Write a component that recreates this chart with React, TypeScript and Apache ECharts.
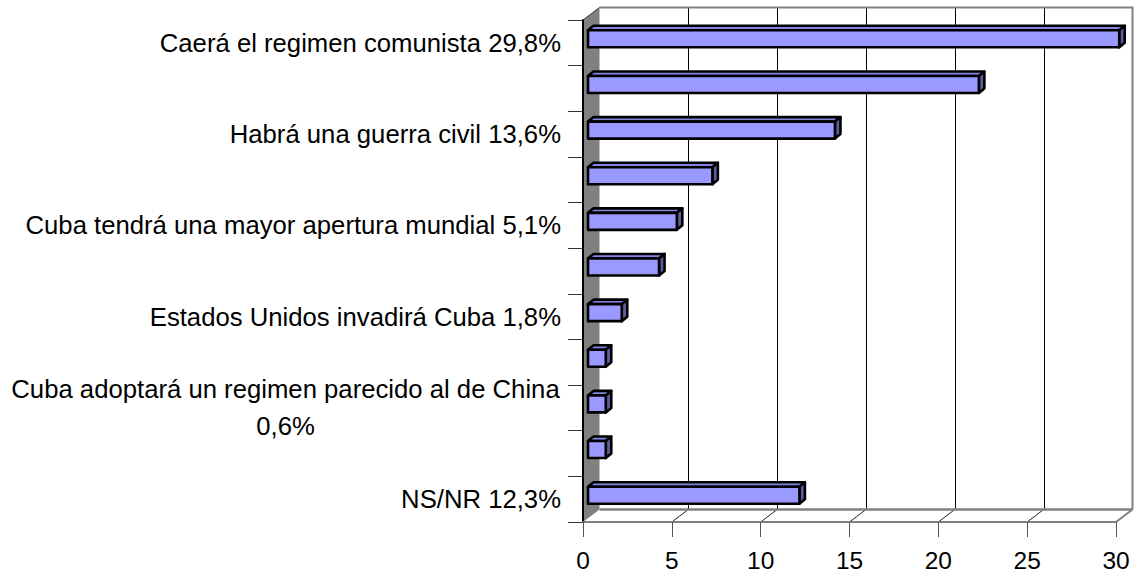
import React, { useEffect, useRef } from 'react';
import * as echarts from 'echarts';

// ---- data ----
const categories: string[] = [
  'Caerá el regimen comunista 29,8%',
  'Categoría 2',
  'Habrá una guerra civil 13,6%',
  'Categoría 4',
  'Cuba tendrá una mayor apertura mundial 5,1%',
  'Categoría 6',
  'Estados Unidos invadirá Cuba 1,8%',
  'Categoría 8',
  'Cuba adoptará un regimen parecido al de China\n0,6%',
  'Categoría 10',
  'NS/NR 12,3%',
];
const values: number[] = [29.9, 22.0, 13.9, 7.0, 5.0, 4.0, 1.9, 1.0, 1.0, 1.0, 11.9];
const xTicks: number[] = [0, 5, 10, 15, 20, 25, 30];

// ---- style constants ----
const FONT = '"Liberation Sans", Arial, Helvetica, sans-serif';
const Y_FONT = 25.7;
const X_FONT = 24.5;
const DX = 16.5; // depth offset of back wall
const DY = -12.5;
const BAR_X = 5; // bar front face offset from front plane
const BAR_TOP = -12.5;
const BAR_BOT = 4.5;
const BDX = 5.5; // bar depth
const BDY = -4.5;
const FRONT = '#9999FF';
const TOPC = '#8484E0';
const SIDE = '#5E5E9E';

function measure(text: string, size: number): number {
  try {
    const c = document.createElement('canvas').getContext('2d');
    if (!c) return text.length * size * 0.5;
    c.font = `${size}px "Liberation Sans", Arial, sans-serif`;
    return Math.ceil(c.measureText(text).width) + 2;
  } catch (e) {
    return text.length * size * 0.5;
  }
}

export default function App() {
  const ref = useRef<HTMLDivElement>(null);
  useEffect(() => {
    if (!ref.current) return;
    const chart = echarts.init(ref.current, undefined, { renderer: 'svg' });
    const wrapW = Math.max(
      ...categories.filter((c) => c.includes('\n')).flatMap((c) => c.split('\n')).map((l) => measure(l, Y_FONT)),
      10
    );

    const option: any = {
      animation: false,
      backgroundColor: '#ffffff',
      textStyle: { fontFamily: FONT },
      grid: { left: 583, right: 19, top: 20, bottom: 51, containLabel: false },
      xAxis: {
        type: 'value',
        min: 0,
        max: 30,
        interval: 5,
        axisLine: { show: true, lineStyle: { color: '#808080', width: 2 } },
        axisTick: { show: true, length: 15, lineStyle: { color: '#555555', width: 1 } },
        axisLabel: { color: '#000', fontSize: X_FONT, fontFamily: FONT, margin: 26 },
        splitLine: { show: false },
      },
      yAxis: {
        type: 'category',
        data: categories,
        inverse: true,
        axisLine: { show: true, lineStyle: { color: '#000', width: 2 } },
        axisTick: { show: true, length: 15, interval: 0, lineStyle: { color: '#333', width: 1 } },
        axisLabel: {
          interval: 1,
          margin: 22,
          color: '#000',
          fontSize: Y_FONT,
          fontFamily: FONT,
          lineHeight: 37,
          formatter: (value: string) =>
            value.includes('\n')
              ? value
                  .split('\n')
                  .map((l) => `{c|${l}}`)
                  .join('\n')
              : value,
          rich: {
            c: {
              width: wrapW,
              align: 'center',
              fontSize: Y_FONT,
              fontFamily: FONT,
              lineHeight: 37,
              color: '#000',
            },
          },
        },
        splitLine: { show: false },
      },
      series: [
        {
          type: 'custom',
          name: 'frame',
          z: -1,
          silent: true,
          data: [[0, 0]],
          encode: { x: 0, y: 1 },
          renderItem: (params: any, api: any) => {
            const cs = params.coordSys;
            const L = cs.x;
            const T = cs.y;
            const R = cs.x + cs.width;
            const B = cs.y + cs.height;
            const children: any[] = [];
            children.push({
              type: 'rect',
              shape: { x: L + DX, y: T + DY, width: cs.width, height: cs.height },
              style: { fill: '#ffffff' },
            });
            xTicks.slice(1, -1).forEach((t) => {
              const x = Math.round(api.coord([t, 0])[0] + DX) + 0.5;
              children.push({
                type: 'line',
                shape: { x1: x, y1: T + DY, x2: x, y2: B + DY },
                style: { stroke: '#000', lineWidth: 1 },
              });
            });
            xTicks.slice(1, -1).forEach((t) => {
              const x = api.coord([t, 0])[0];
              children.push({
                type: 'line',
                shape: { x1: x, y1: B, x2: x + DX, y2: B + DY },
                style: { stroke: '#222', lineWidth: 1 },
              });
            });
            children.push({
              type: 'line',
              shape: { x1: L + DX, y1: B + DY, x2: R + DX, y2: B + DY },
              style: { stroke: '#808080', lineWidth: 2.5 },
            });
            children.push({
              type: 'line',
              shape: { x1: R, y1: B, x2: R + DX, y2: B + DY },
              style: { stroke: '#808080', lineWidth: 2 },
            });
            children.push({
              type: 'polyline',
              shape: {
                points: [
                  [L + DX, T + DY],
                  [R + DX, T + DY],
                  [R + DX, B + DY],
                ],
              },
              style: { stroke: '#808080', lineWidth: 2, fill: 'none' },
            });
            children.push({
              type: 'polygon',
              shape: {
                points: [
                  [L, T],
                  [L + DX, T + DY],
                  [L + DX, B + DY],
                  [L, B],
                ],
              },
              style: { fill: '#808080' },
            });
            children.push({
              type: 'line',
              shape: { x1: L, y1: T, x2: L + DX, y2: T + DY },
              style: { stroke: '#333', lineWidth: 1 },
            });
            return { type: 'group', children };
          },
        },
        {
          type: 'custom',
          name: 'bars',
          z: 3,
          data: values.map((v, i) => [v, i]),
          encode: { x: 0, y: 1 },
          renderItem: (params: any, api: any) => {
            const v = api.value(0);
            const i = api.value(1);
            const p0 = api.coord([0, i]);
            const p1 = api.coord([v, i]);
            const cy = p0[1];
            const x0 = p0[0] + BAR_X;
            const x1 = p1[0] + BAR_X;
            const y0 = cy + BAR_TOP;
            const y1 = cy + BAR_BOT;
            const stroke = { stroke: '#000', lineWidth: 2.6, lineJoin: 'round' };
            return {
              type: 'group',
              children: [
                {
                  type: 'polygon',
                  shape: {
                    points: [
                      [x0, y0],
                      [x0 + BDX, y0 + BDY],
                      [x1 + BDX, y0 + BDY],
                      [x1, y0],
                    ],
                  },
                  style: { fill: TOPC, ...stroke },
                },
                {
                  type: 'polygon',
                  shape: {
                    points: [
                      [x1, y0],
                      [x1 + BDX, y0 + BDY],
                      [x1 + BDX, y1 + BDY],
                      [x1, y1],
                    ],
                  },
                  style: { fill: SIDE, ...stroke },
                },
                {
                  type: 'rect',
                  shape: { x: x0, y: y0, width: x1 - x0, height: y1 - y0 },
                  style: { fill: FRONT, ...stroke },
                },
              ],
            };
          },
        },
      ],
    };
    chart.setOption(option);
    return () => chart.dispose();
  }, []);
  return (
    <div
      ref={ref}
      style={{ position: 'absolute', left: 0, top: 0, width: 1135, height: 573, background: '#fff' }}
    />
  );
}
